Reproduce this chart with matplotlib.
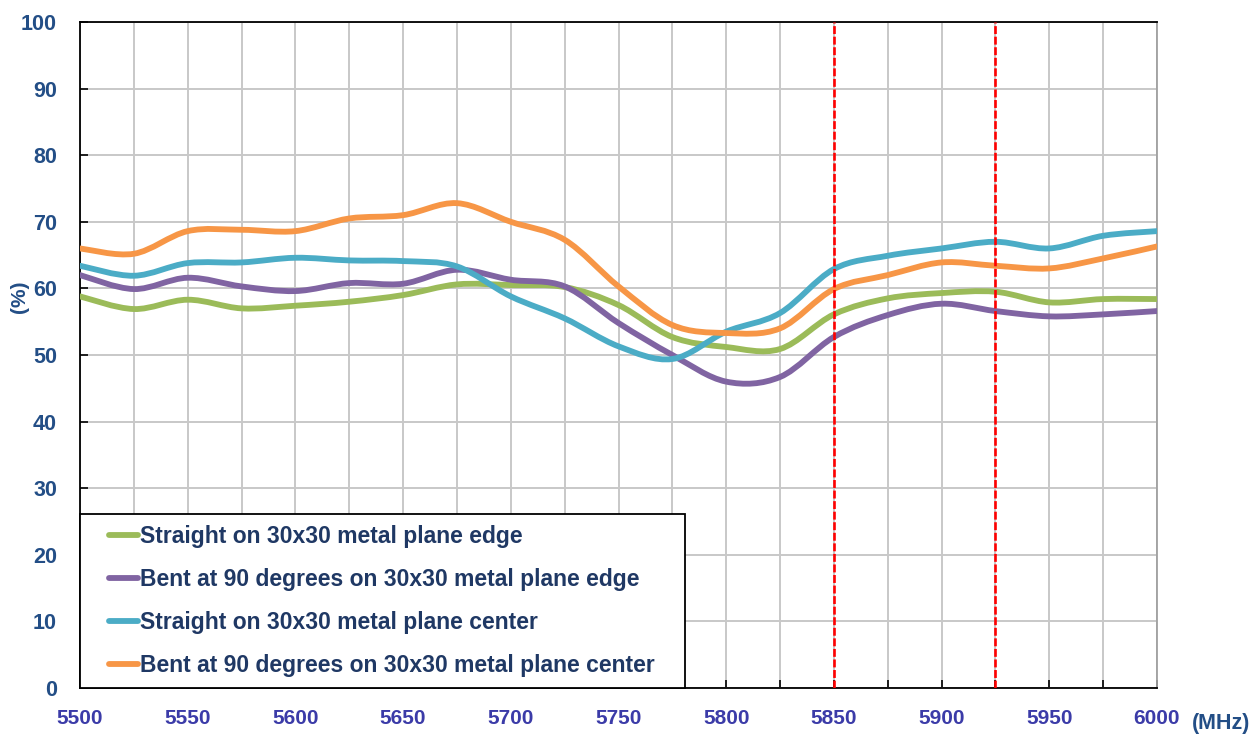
import numpy as np
import matplotlib
matplotlib.use("Agg")
import matplotlib.pyplot as plt
from matplotlib.path import Path
from matplotlib.patches import PathPatch
from matplotlib.lines import Line2D
from matplotlib.legend_handler import HandlerBase

freq = [5500, 5525, 5550, 5575, 5600, 5625, 5650, 5675, 5700, 5725, 5750,
        5775, 5800, 5825, 5850, 5875, 5900, 5925, 5950, 5975, 6000]
straight_edge = [58.8, 56.9, 58.3, 57.0, 57.4, 58.0, 59.0, 60.6, 60.5, 60.2, 57.5,
                 52.7, 51.2, 50.9, 56.1, 58.5, 59.3, 59.5, 57.9, 58.4, 58.4]
bent_edge = [62.0, 59.9, 61.6, 60.3, 59.6, 60.8, 60.7, 62.8, 61.3, 60.3, 54.8,
             50.0, 46.0, 46.7, 52.7, 56.0, 57.7, 56.6, 55.8, 56.1, 56.6]
straight_center = [63.4, 61.9, 63.8, 63.9, 64.6, 64.2, 64.1, 63.3, 58.8, 55.5, 51.3,
                   49.4, 53.5, 56.3, 62.9, 64.9, 66.0, 67.0, 66.0, 67.9, 68.6]
bent_center = [66.0, 65.2, 68.6, 68.8, 68.6, 70.5, 71.0, 72.8, 70.0, 67.3, 60.3,
               54.5, 53.3, 54.0, 59.9, 62.0, 63.9, 63.4, 63.0, 64.5, 66.3]
labels = ["Straight on 30x30 metal plane edge",
          "Bent at 90 degrees on 30x30 metal plane edge",
          "Straight on 30x30 metal plane center",
          "Bent at 90 degrees on 30x30 metal plane center"]
colors = ["#9BBB59", "#8064A2", "#4BACC6", "#F79646"]
markers_mhz = [5850, 5925]

plt.rcParams['font.family'] = ['Liberation Sans', 'DejaVu Sans']

fig = plt.figure(figsize=(12.6, 7.36), dpi=100)
ax = fig.add_axes([80/1260, 1-688/736, (1157-80)/1260, (688-22)/736])


def smooth_path(x, y, t=1/6):
    x = np.asarray(x, float)
    y = np.asarray(y, float)
    verts = [(x[0], y[0])]
    codes = [Path.MOVETO]
    n = len(x)
    for i in range(n - 1):
        p0 = np.array([x[max(i-1, 0)], y[max(i-1, 0)]])
        p1 = np.array([x[i], y[i]])
        p2 = np.array([x[i+1], y[i+1]])
        p3 = np.array([x[min(i+2, n-1)], y[min(i+2, n-1)]])
        c1 = p1 + (p2 - p0) * t
        c2 = p2 - (p3 - p1) * t
        verts += [tuple(c1), tuple(c2), tuple(p2)]
        codes += [Path.CURVE4] * 3
    return Path(verts, codes)


series = [straight_edge, bent_edge, straight_center, bent_center]
for vals, c in zip(series, colors):
    patch = PathPatch(smooth_path(freq, vals), facecolor='none', edgecolor=c,
                      lw=4.2, capstyle='round', joinstyle='round', zorder=3)
    ax.add_patch(patch)

for m in markers_mhz:
    ax.axvline(m, color='#FF0000', lw=1.9, ls=(0, (3.0, 1.0)), zorder=4)

ax.set_xlim(5500, 6000)
ax.set_ylim(0, 100)
ax.set_xticks(np.arange(5500, 6001, 50))
ax.set_xticks(np.arange(5500, 6001, 25), minor=True)
ax.set_yticks(np.arange(0, 101, 10))
ax.grid(True, which='both', color='#C8C8C8', lw=1.4, zorder=0)
ax.set_axisbelow(True)
ax.tick_params(axis='both', which='both', direction='in', length=6, width=1.2, color='black')
ax.tick_params(axis='x', which='major', pad=15, labelsize=15, labelcolor='#3B3BA8')
ax.tick_params(axis='y', which='major', pad=16.5, labelsize=15.5, labelcolor='#234E86')
for lab in ax.get_xticklabels() + ax.get_yticklabels():
    lab.set_fontweight('bold')
for s in ['left', 'bottom', 'top']:
    ax.spines[s].set_color('black')
    ax.spines[s].set_linewidth(1.3)
ax.spines['right'].set_color('#A0A0A0')
ax.spines['right'].set_linewidth(1.3)

fig.text(20/1260, 1-297/736, '(%)', fontsize=15, fontweight='bold', color='#234E86',
         ha='center', va='center', rotation=90)
fig.text(1221/1260, 1-723/736, '(MHz)', fontsize=15.5, fontweight='bold', color='#234E86',
         ha='center', va='center')


class OffsetLineHandler(HandlerBase):
    def create_artists(self, legend, orig_handle, xdescent, ydescent, width, height,
                       fontsize, trans):
        y = height / 2 - ydescent
        x0 = -xdescent + width * 0.4
        x1 = -xdescent + width
        ln = Line2D([x0, x1], [y, y], color=orig_handle.get_color(),
                    lw=orig_handle.get_linewidth(), solid_capstyle='round',
                    transform=trans)
        return [ln]


handles = [Line2D([], [], color=c, lw=4.2) for c in colors]
leg = ax.legend(handles, labels, loc='lower left',
                bbox_to_anchor=(0, 0, (685-80)/1077, 1), mode='expand',
                frameon=True, fancybox=False, framealpha=1, edgecolor='black',
                handlelength=2.05, handletextpad=0.12, labelspacing=0.88,
                borderpad=0.46, borderaxespad=0,
                handler_map={Line2D: OffsetLineHandler()},
                prop={'size': 16.5, 'weight': 'bold'})
leg.get_frame().set_linewidth(1.3)
for t in leg.get_texts():
    t.set_color('#1F3864')
leg.set_zorder(5)

fig.savefig('out.png', dpi=100)
